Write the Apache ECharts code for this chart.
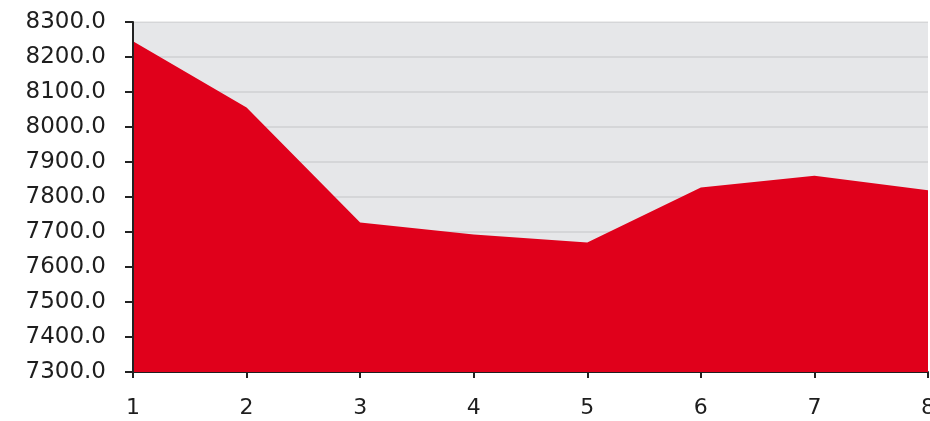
<!DOCTYPE html>
<html>
<head>
<meta charset="utf-8">
<script src="https://cdn.jsdelivr.net/npm/echarts@6/dist/echarts.min.js"></script>
<style>html,body{margin:0;padding:0;background:#fff}#c{width:930px;height:421px}</style>
</head>
<body>
<div id="c"></div>
<script>
const categories = ['1','2','3','4','5','6','7','8'];
const values = [8245, 8056, 7727, 7693, 7670, 7827, 7861, 7819];
const yMin = 7300, yMax = 8300, yStep = 100;

const chart = echarts.init(document.getElementById('c'), null, {renderer:'canvas'});
chart.setOption({
  animation: false,
  grid: {left: 133, right: 2, top: 22, bottom: 49, show: true, backgroundColor: '#e6e7e9', borderWidth: 0,
         containLabel: false, outerBoundsMode: 'none'},
  xAxis: {
    type: 'category', data: categories, boundaryGap: false,
    axisLine: {show: true, lineStyle: {color: '#222', width: 2}},
    axisTick: {show: true, alignWithLabel: true, length: 6, lineStyle: {color: '#222', width: 2}},
    axisLabel: {color: '#1e1e1e', fontFamily: 'DejaVu Sans', fontSize: 22, margin: 25, showMaxLabel: true, showMinLabel: true},
    splitLine: {show: false}
  },
  yAxis: {
    type: 'value', min: yMin, max: yMax, interval: yStep, z: 3,
    axisLine: {show: true, lineStyle: {color: '#222', width: 2}},
    axisTick: {show: true, length: 8, lineStyle: {color: '#222', width: 2}},
    axisLabel: {color: '#1e1e1e', fontFamily: 'DejaVu Sans', fontSize: 23, margin: 27,
      formatter: v => v.toFixed(1)},
    splitLine: {show: true, lineStyle: {color: 'rgba(0,0,0,0.07)', width: 2}}
  },
  series: [{
    type: 'line', data: values, symbol: 'none', smooth: false,
    lineStyle: {width: 0, color: '#e0001b'},
    areaStyle: {color: '#e0001b', opacity: 1}
  }]
});
</script>
</body>
</html>
